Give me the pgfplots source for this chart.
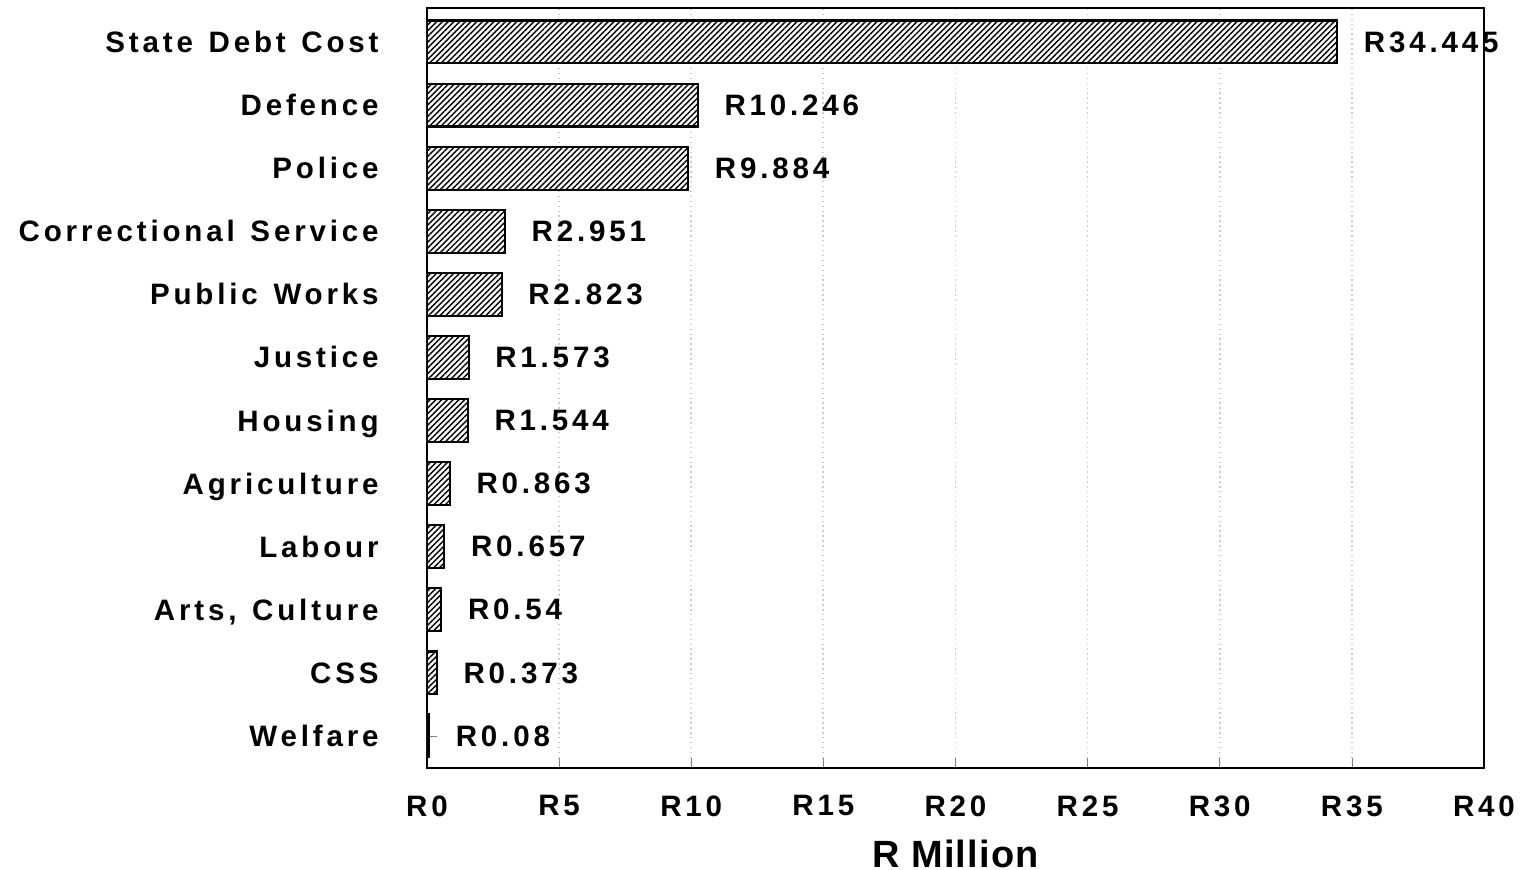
\documentclass[border=0pt]{standalone}
\usepackage{pgfplots}
\pgfplotsset{compat=1.18}
\usepackage{pgfplotstable}
\usepackage{fontspec}
\setmainfont{Liberation Sans}[LetterSpace=13, WordSpace=1.3]
\newfontfamily\titlefont{Liberation Sans}[LetterSpace=3]
\usetikzlibrary{patterns.meta}

\pgfplotstableread{
y x label
11 34.445 R34.445
10 10.246 R10.246
9 9.884 R9.884
8 2.951 R2.951
7 2.823 R2.823
6 1.573 R1.573
5 1.544 R1.544
4 0.863 R0.863
3 0.657 R0.657
2 0.54 R0.54
1 0.373 R0.373
0 0.08 R0.08
}\budget

\begin{document}
\begin{tikzpicture}
\path[use as bounding box] (-4.27,-1.02) rectangle (10.93,7.68);
\begin{axis}[
  scale only axis,
  width=10.57cm, height=7.6cm,
  xmin=0, xmax=40,
  ymin=-0.507, ymax=11.539,
  xtick={0,5,...,40},
  xticklabels={R0,R5,R10,R15,R20,R25,R30,R35,R40},
  ytick={0,...,11},
  yticklabels={Welfare,CSS,{Arts, Culture},Labour,Agriculture,Housing,Justice,Public Works,Correctional Service,Police,Defence,State Debt Cost},
  tick align=inside,
  xtick pos=bottom, ytick pos=left,
  major tick length=0.1cm,
  axis line style={black, line width=0.5pt},
  xmajorgrids,
  grid style={gray!40, densely dotted, line width=0.5pt},
  ticklabel style={font=\fontsize{8.4}{10}\selectfont\bfseries},
  xticklabel style={yshift=-0.15cm},
  yticklabel style={anchor=base east, yshift=-0.105cm, xshift=-0.36cm},
  xlabel={R Million},
  xlabel style={font=\titlefont\fontsize{10.8}{13}\selectfont\bfseries, at={(axis description cs:0.5,-0.1305)}, anchor=base},
  nodes near coords,
  point meta=explicit symbolic,
  every node near coord/.append style={anchor=west, xshift=0.14cm, font=\fontsize{8.4}{10}\selectfont\bfseries, black},
]
\addplot[xbar, bar width=0.68, draw=black, line width=0.6pt, fill=white,
  postaction={pattern={Lines[angle=45, distance=1.15pt, line width=0.4pt]}}]
  table[x=x, y=y, meta=label] {\budget};
\end{axis}
\end{tikzpicture}
\end{document}
